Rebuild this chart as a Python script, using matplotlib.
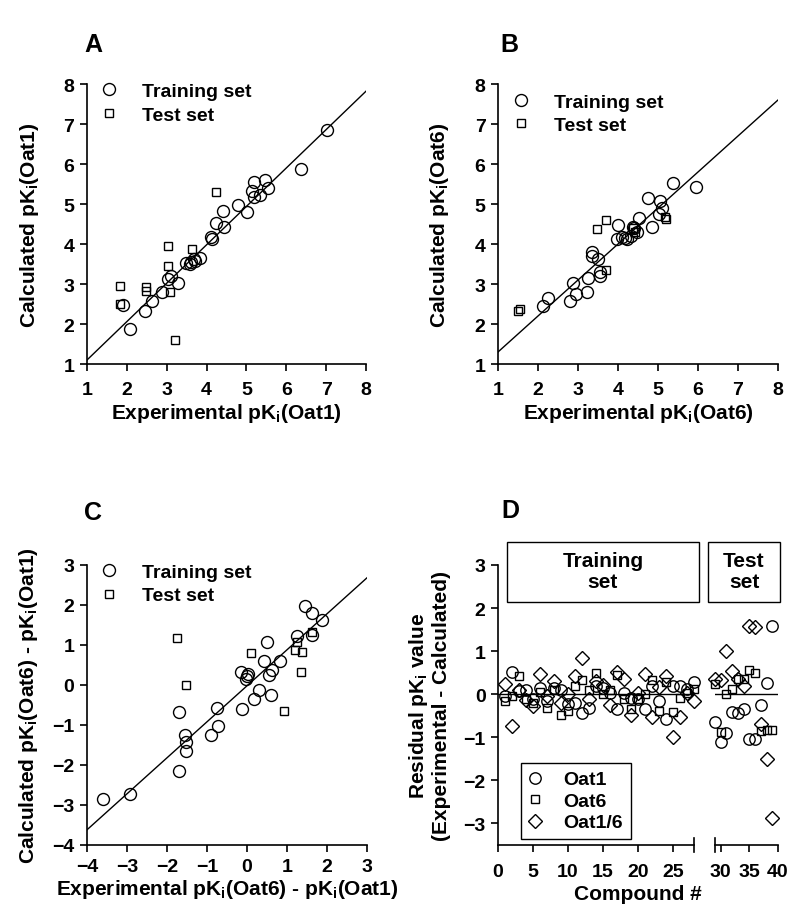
import numpy as np
import matplotlib
matplotlib.use("Agg")
import matplotlib.pyplot as plt
from matplotlib.patches import Rectangle

plt.rcParams["font.family"] = ["Liberation Sans", "DejaVu Sans"]
plt.rcParams["font.weight"] = "bold"
plt.rcParams["mathtext.fontset"] = "custom"
plt.rcParams["mathtext.rm"] = "Liberation Sans:bold"
plt.rcParams["mathtext.it"] = "Liberation Sans:bold"
plt.rcParams["mathtext.bf"] = "Liberation Sans:bold"
plt.rcParams["mathtext.default"] = "rm"

# Panel A: experimental vs calculated pKi (Oat1)
a_train_x = [7.03, 6.38, 5.47, 5.18, 5.53, 5.14, 5.35, 5.20, 5.02, 4.78, 4.41, 4.24, 4.43, 4.12,
             4.14, 3.83, 3.68, 3.62, 3.48, 3.58, 3.72, 3.12, 3.03, 3.28, 2.87, 2.62, 2.45, 1.91, 2.08]
a_train_y = [6.86, 5.87, 5.61, 5.54, 5.40, 5.32, 5.22, 5.17, 4.79, 4.98, 4.83, 4.53, 4.43, 4.18,
             4.13, 3.66, 3.62, 3.54, 3.52, 3.50, 3.58, 3.21, 3.13, 3.02, 2.79, 2.58, 2.33, 2.47, 1.88]
a_test_x = [4.24, 3.03, 3.64, 3.03, 1.83, 2.49, 2.49, 3.08, 1.83, 3.20]
a_test_y = [5.29, 3.94, 3.87, 3.44, 2.96, 2.92, 2.82, 2.80, 2.50, 1.61]
a_fit = (0.96, 0.14)

# Panel B: Oat6
b_train_x = [5.95, 5.38, 4.76, 5.05, 5.09, 5.03, 4.86, 4.53, 4.38, 4.47, 4.01, 4.40, 4.32, 3.97,
             4.10, 4.22, 4.18, 3.34, 3.34, 3.51, 3.55, 3.55, 3.26, 2.87, 2.95, 3.22, 2.80, 2.26, 2.13]
b_train_y = [5.43, 5.52, 5.16, 5.08, 4.91, 4.74, 4.42, 4.66, 4.42, 4.30, 4.47, 4.40, 4.20, 4.13,
             4.17, 4.13, 4.15, 3.80, 3.70, 3.63, 3.29, 3.21, 3.14, 3.02, 2.76, 2.79, 2.58, 2.65, 2.46]
b_test_x = [3.70, 3.47, 3.70, 4.38, 4.42, 5.19, 5.18, 1.55, 1.51]
b_test_y = [4.61, 4.37, 3.34, 4.40, 4.30, 4.63, 4.68, 2.38, 2.33]
b_fit = (0.90, 0.40)

# Panel C: selectivity pKi(Oat6) - pKi(Oat1)
c_train_x = [-3.59, -2.93, -1.70, -1.53, -1.53, -1.55, -1.70, -0.90, -0.73, -0.76, -0.13, -0.15,
             -0.01, 0.03, -0.03, 0.18, 0.31, 0.59, 0.56, 0.62, 0.43, 0.51, 0.83, 1.26, 1.45, 1.63,
             1.87, 1.63]
c_train_y = [-2.85, -2.73, -2.14, -1.64, -1.43, -1.24, -0.67, -1.25, -1.03, -0.58, -0.60, 0.33,
             0.23, 0.27, 0.15, -0.35, -0.12, -0.24, 0.25, 0.38, 0.61, 1.07, 0.59, 1.23, 1.98, 1.79,
             1.63, 1.26]
c_test_x = [-1.74, -1.53, 0.09, 0.93, 1.26, 1.20, 1.37, 1.34, 1.63]
c_test_y = [1.17, 0.00, 0.80, -0.66, 1.07, 0.88, 0.83, 0.33, 1.32]
c_fit = (0.90, -0.02)

# Panel D: residuals per compound
d_train_n = list(range(1, 29))
d_train_oat1 = [-0.04, 0.52, 0.08, 0.10, -0.10, 0.15, -0.15, 0.15, 0.10, -0.23, -0.21, -0.43, -0.31,
                0.20, 0.15, 0.04, -0.35, 0.04, -0.08, -0.12, -0.35, 0.19, -0.15, -0.57, 0.19, 0.19,
                0.12, 0.29]
d_train_oat6 = [-0.15, -0.05, 0.43, -0.10, -0.20, 0.05, -0.33, 0.10, -0.49, -0.39, 0.19, 0.33, 0.10,
                0.50, 0.00, 0.10, 0.44, -0.12, -0.35, -0.10, 0.00, 0.33, -0.39, 0.29, -0.41, -0.08,
                0.02, 0.13]
d_train_oat16 = [0.23, -0.73, 0.10, -0.14, -0.27, 0.46, -0.05, 0.31, -0.20, 0.00, 0.43, 0.84, -0.12,
                 0.31, 0.21, -0.26, 0.52, 0.35, -0.49, 0.04, 0.46, -0.54, 0.17, 0.43, -1.00, -0.54,
                 0.04, -0.15]
d_test_n = list(range(29, 40))
d_test_oat1 = [-0.65, -1.10, -0.89, -0.41, -0.44, -0.34, -1.03, -1.03, -0.25, 0.27, 1.59]
d_test_oat6 = [0.23, -0.88, 0.00, 0.12, 0.36, 0.36, 0.56, 0.50, -0.85, -0.84, -0.84]
d_test_oat16 = [0.36, 0.32, 1.00, 0.55, 0.36, 0.19, 1.59, 1.55, -0.68, -1.50, -2.88]

W, H = 791, 912
fig = plt.figure(figsize=(W / 100, H / 100), dpi=100)

LAB = 15
TICK = 14
leg_prop = {"weight": "bold", "size": 14}


def px_axes(x0, y0, x1, y1):
    return fig.add_axes([x0 / W, 1 - y1 / H, (x1 - x0) / W, (y1 - y0) / H])


def style(ax, xpad=4):
    for s in ["top", "right"]:
        ax.spines[s].set_visible(False)
    for s in ["left", "bottom"]:
        ax.spines[s].set_linewidth(1.2)
    ax.tick_params(direction="out", length=5, width=1.2, labelsize=TICK, pad=4)
    ax.tick_params(axis="x", pad=xpad)


circ = dict(marker="o", ms=8.6, mfc="none", mec="black", mew=1.0, ls="none")
sqr = dict(marker="s", ms=6.0, mfc="none", mec="black", mew=1.0, ls="none")


def scatter_panel(ax, tx, ty, sx, sy, fit, lims, xlab, ylab, leg_anchor, ylab_x, xlab_y, xpad):
    lo, hi = lims
    xs = np.array([lo, hi])
    ax.plot(xs, fit[0] * xs + fit[1], color="black", lw=1.0)
    h1, = ax.plot(tx, ty, **circ)
    h2, = ax.plot(sx, sy, **sqr)
    ax.set_xlim(lo, hi)
    ax.set_ylim(lo, hi)
    ax.set_xticks(range(lo, hi + 1))
    ax.set_yticks(range(lo, hi + 1))
    ax.set_xlabel(xlab, fontsize=LAB, fontweight="bold")
    ax.set_ylabel(ylab, fontsize=LAB, fontweight="bold")
    ax.xaxis.set_label_coords(0.5, xlab_y)
    ax.yaxis.set_label_coords(ylab_x, 0.5)
    ax.legend([h1, h2], ["Training set", "Test set"], loc="upper left",
              bbox_to_anchor=leg_anchor, frameon=False, borderpad=0, borderaxespad=0,
              handlelength=1.0, handletextpad=1.2, labelspacing=0.3, prop=leg_prop)
    style(ax, xpad)


axA = px_axes(87, 85, 366, 365)
scatter_panel(axA, a_train_x, a_train_y, a_test_x, a_test_y, a_fit, (1, 8),
              "Experimental pK$_i$(Oat1)", "Calculated pK$_i$(Oat1)", (0.043, 1.005),
              -0.165, -0.133, 7)
axB = px_axes(498, 85, 778, 365)
scatter_panel(axB, b_train_x, b_train_y, b_test_x, b_test_y, b_fit, (1, 8),
              "Experimental pK$_i$(Oat6)", "Calculated pK$_i$(Oat6)", (0.046, 0.967),
              -0.168, -0.133, 7)
axC = px_axes(87, 566, 367, 846)
scatter_panel(axC, c_train_x, c_train_y, c_test_x, c_test_y, c_fit, (-4, 3),
              "Experimental pK$_i$(Oat6) - pK$_i$(Oat1)", "Calculated pK$_i$(Oat6) - pK$_i$(Oat1)",
              (0.043, 1.006), -0.168, -0.113, 4)

# Panel D: broken x axis as two axes
dc = dict(marker="o", ms=8.2, mfc="none", mec="black", mew=1.0, ls="none", clip_on=False)
ds = dict(marker="s", ms=6.2, mfc="none", mec="black", mew=1.0, ls="none", clip_on=False)
dd = dict(marker="D", ms=7.6, mfc="none", mec="black", mew=1.0, ls="none", clip_on=False)

axD1 = px_axes(498, 566, 694, 846)
axD2 = px_axes(715, 566, 778, 846)
for ax, n, r1, r6, r16, xl in [(axD1, d_train_n, d_train_oat1, d_train_oat6, d_train_oat16, (0, 28)),
                               (axD2, d_test_n, d_test_oat1, d_test_oat6, d_test_oat16, (29, 40))]:
    ax.axhline(0, color="black", lw=1.0)
    hd1, = ax.plot(n, r1, **dc)
    hd2, = ax.plot(n, r6, **ds)
    hd3, = ax.plot(n, r16, **dd)
    ax.set_xlim(*xl)
    ax.set_ylim(-3.5, 3)
    style(ax, 8)
axD1.set_xticks([0, 5, 10, 15, 20, 25])
axD1.set_yticks([-3, -2, -1, 0, 1, 2, 3])
axD2.set_xticks([30, 35, 40])
axD2.spines["left"].set_visible(False)
axD2.tick_params(axis="y", left=False, labelleft=False)
# break marks at the cut ends
axD1.plot([1, 1], [-0.025, 0.025], transform=axD1.transAxes, color="black", lw=1.2, clip_on=False)
axD2.plot([0, 0], [-0.025, 0.025], transform=axD2.transAxes, color="black", lw=1.2, clip_on=False)
axD1.set_ylabel("Residual pK$_i$ value\n(Experimental - Calculated)", fontsize=LAB,
                fontweight="bold", linespacing=1.1)
axD1.yaxis.set_label_coords(-0.24, 0.5)
fig.text(638 / W, 1 - 895 / H, "Compound #", fontsize=LAB, fontweight="bold", ha="center", va="center")
leg = axD1.legend([hd1, hd2, hd3], ["Oat1", "Oat6", "Oat1/6"], loc="lower left",
                  bbox_to_anchor=(0.117, 0.021), frameon=True, fancybox=False, edgecolor="black",
                  framealpha=1, borderpad=0.4, borderaxespad=0, handlelength=0.6, handletextpad=1.2,
                  labelspacing=0.2, prop=leg_prop)
leg.get_frame().set_linewidth(1.0)

# set boxes above panel D
for x0, x1, label in [(507, 699, "Training\nset"), (708, 780, "Test\nset")]:
    fig.patches.append(Rectangle((x0 / W, 1 - 603 / H), (x1 - x0) / W, 60 / H,
                                 transform=fig.transFigure, fill=False, edgecolor="black", lw=1.0))
    fig.text((x0 + x1) / 2 / W, 1 - 572 / H, label, fontsize=LAB, fontweight="bold",
             ha="center", va="center", linespacing=1.1)

for x, y, lab in [(93, 45, "A"), (509, 45, "B"), (93, 513, "C"), (510, 511, "D")]:
    fig.text(x / W, 1 - y / H, lab, fontsize=18, fontweight="bold", ha="center", va="center")

fig.savefig("out.png", dpi=100)
